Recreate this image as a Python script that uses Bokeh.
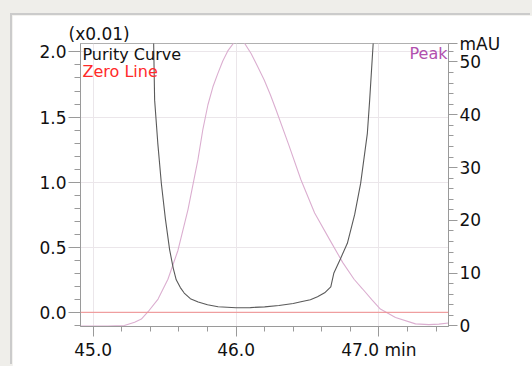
from bokeh.plotting import figure
from bokeh.models import Range1d, LinearAxis, FixedTicker, Label, Span, CustomJSTickFormatter, Title
from bokeh.layouts import column
from bokeh.embed import file_html
from bokeh.resources import INLINE

# ---- data ----
purity_t = [45.400, 45.423, 45.430, 45.452, 45.477, 45.505, 45.535, 45.560, 45.581, 45.610,
            45.637, 45.680, 45.735, 45.800, 45.874, 46.000, 46.100, 46.200, 46.300, 46.400,
            46.454, 46.520, 46.570, 46.620, 46.663, 46.684, 46.730, 46.779, 46.830, 46.872,
            46.919, 46.935, 46.960, 46.975]
purity_y = [2.60, 2.07, 1.63, 1.30, 0.99, 0.72, 0.48, 0.34, 0.25, 0.19,
            0.148, 0.105, 0.079, 0.058, 0.043, 0.035, 0.036, 0.042, 0.052, 0.068,
            0.081, 0.097, 0.120, 0.150, 0.196, 0.300, 0.410, 0.530, 0.750, 0.990,
            1.375, 1.628, 2.070, 2.600]

peak_t = [44.911, 45.100, 45.218, 45.290, 45.337, 45.384, 45.454, 45.523, 45.593, 45.663,
          45.733, 45.768, 45.803, 45.838, 45.872, 45.907, 45.942, 45.986, 46.020, 46.056,
          46.105, 46.150, 46.197, 46.240, 46.279, 46.370, 46.454, 46.550, 46.654, 46.747,
          46.826, 46.886, 46.950, 47.010, 47.116, 47.256, 47.350, 47.420, 47.487]
peak_mau = [0.0, 0.0, 0.1, 0.7, 1.3, 2.7, 5.1, 8.85, 14.3, 22.0,
            31.5, 37.3, 41.9, 45.3, 47.8, 50.2, 52.1, 53.7, 54.2, 53.7,
            51.6, 49.2, 46.6, 43.8, 41.0, 34.2, 27.7, 21.4, 16.4, 12.0,
            8.85, 7.0, 5.0, 3.2, 1.6, 0.4, 0.25, 0.35, 0.55]

x_ticks = [45.0, 46.0, 47.0]
x_tick_labels = ["45.0", "46.0", "47.0 min"]
left_ticks = [0.0, 0.5, 1.0, 1.5, 2.0]
left_tick_labels = ["0.0", "0.5", "1.0", "1.5", "2.0"]
right_ticks = [0, 10, 20, 30, 40, 50, 53.45]
right_tick_labels = ["0", "10", "20", "30", "40", "50", "mAU"]
left_unit = "(x0.01)"

FONT = "DejaVu Sans"
X0, X1 = 44.911, 47.487
YL0, YL1 = -0.109, 2.065
YR0, YR1 = -0.1, 53.5

p = figure(width=520, height=351, output_backend="svg", toolbar_location=None,
           x_range=Range1d(X0, X1), y_range=Range1d(YL0, YL1),
           min_border_left=68, min_border_right=84, min_border_top=28, min_border_bottom=40,
           margin=(15, 0, 0, 12),
           background_fill_color="white", border_fill_color="white",
           outline_line_color="#b0b0b0", outline_line_width=1)
p.styles = {"box-shadow": "-2px -2px 0 0 #cbcbcb"}
p.extra_y_ranges = {"mau": Range1d(YR0, YR1)}

# unit label above the left axis
p.title = Title(text=left_unit, align="left", offset=-12, standoff=0,
                text_font=FONT, text_font_size="17px", text_font_style="normal",
                text_color="#111111", vertical_align="bottom")

def fx(px):
    return X0 + (px - 80) * (X1 - X0) / 368.0

def fyl(py):
    return YL1 - (py - 43) * (YL1 - YL0) / 283.0

axis_grey = "#9a9a9a"
FMT = "const i = tvals.indexOf(tick); return i >= 0 ? tlabels[i] : '';"

def fmt(vals, labels):
    return CustomJSTickFormatter(args=dict(tvals=vals, tlabels=labels), code=FMT)

# x axis
xt = FixedTicker(ticks=x_ticks, minor_ticks=[45.2, 45.4, 45.6, 45.8, 46.2, 46.4, 46.6, 46.8, 47.2, 47.4])
xa = p.xaxis[0]
xa.ticker = xt
xa.formatter = fmt(x_ticks, x_tick_labels)
xa.major_tick_out = 10
xa.major_tick_in = 0
xa.minor_tick_out = 5
xa.minor_tick_in = 0
xa.major_label_standoff = 3

# left axis
yt = FixedTicker(ticks=left_ticks, minor_ticks=[round(-0.1 + 0.1 * i, 1) for i in range(22)])
ya = p.yaxis[0]
ya.ticker = yt
ya.formatter = fmt(left_ticks, left_tick_labels)
ya.major_tick_out = 12
ya.major_tick_in = 0
ya.minor_tick_out = 6
ya.minor_tick_in = 0
ya.major_label_standoff = 2

# right axis (mAU)
ra = LinearAxis(y_range_name="mau",
                ticker=FixedTicker(ticks=right_ticks, minor_ticks=list(range(2, 54, 2))))
ra.formatter = fmt(right_ticks, right_tick_labels)
ra.major_tick_out = 9
ra.major_tick_in = 0
ra.minor_tick_out = 5
ra.minor_tick_in = 0
ra.major_label_standoff = 2
p.add_layout(ra, "right")

for ax in (xa, ya, ra):
    ax.axis_line_color = axis_grey
    ax.major_tick_line_color = axis_grey
    ax.minor_tick_line_color = axis_grey
    ax.major_label_text_font = FONT
    ax.major_label_text_font_size = "17px"
    ax.major_label_text_color = "#111111"

p.xgrid.ticker = xt
p.ygrid.ticker = FixedTicker(ticks=left_ticks)
p.xgrid.grid_line_color = "#ebe6ea"
p.ygrid.grid_line_color = "#ebe6ea"

# zero line
p.add_layout(Span(location=0, dimension="width", line_color="#f08c8c", line_width=1))

# curves
p.line(peak_t, peak_mau, y_range_name="mau", line_color="#dbaed0", line_width=1.1)
p.line(purity_t, purity_y, line_color="#5a5a5a", line_width=1.1)

# legend texts
def lab(text, px, py, color="#111111", align="left", size="16px"):
    p.add_layout(Label(x=fx(px), y=fyl(py), text=text, text_font=FONT, text_font_size=size,
                       text_color=color, text_align=align, text_baseline="middle"))

lab("Purity Curve", 82, 54)
lab("Zero Line", 82, 71, color="#ff2a2a")
lab("Peak", 447, 53, color="#b150ae", align="right")

layout = column(p, styles={"background-color": "#efeeea"})

open("out.html", "w").write(file_html(layout, INLINE))
